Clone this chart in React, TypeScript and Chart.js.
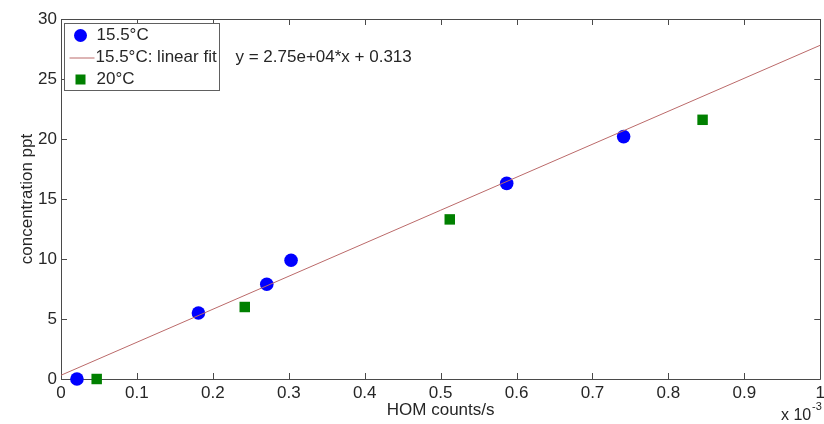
import React, { useEffect, useRef } from "react";
import { Chart, registerables } from "chart.js";

Chart.register(...registerables);

// HOM counts/s (in units of 1e-3)
const blueX = [0.021, 0.181, 0.271, 0.303, 0.587, 0.741];
const blueY = [0, 5.5, 7.9, 9.9, 16.3, 20.2];
const greenX = [0.047, 0.242, 0.512, 0.845];
const greenY = [0, 6.0, 13.3, 21.6];
const fitX = [0, 1];
const fitY = [0.313, 27.813];

const blueLabel = "15.5°C";
const fitLabel = "15.5°C: linear fit";
const greenLabel = "20°C";
const fitEquation = "y = 2.75e+04*x + 0.313";
const xTitle = "HOM counts/s";
const yTitle = "concentration ppt";
const xTicks = [0, 0.1, 0.2, 0.3, 0.4, 0.5, 0.6, 0.7, 0.8, 0.9, 1];
const yTicks = [0, 5, 10, 15, 20, 25, 30];

const FONT = "'Liberation Sans', Arial, sans-serif";
const TEXT = "#262626";
const AXIS = "#4a4a4a";
const BLUE = "#0000ff";
const GREEN = "#008000";
const FITC = "#bb6a6a";

const framePlugin = {
  id: "frame",
  beforeDatasetsDraw(chart: any) {
    const { ctx, chartArea: a, scales } = chart;
    ctx.save();
    ctx.strokeStyle = AXIS;
    ctx.lineWidth = 1;
    ctx.beginPath();
    ctx.rect(Math.round(a.left) + 0.5, Math.round(a.top) + 0.5, Math.round(a.right - a.left), Math.round(a.bottom - a.top));
    const tl = 6;
    xTicks.forEach((v) => {
      const px = Math.round(scales.x.getPixelForValue(v)) + 0.5;
      ctx.moveTo(px, a.bottom);
      ctx.lineTo(px, a.bottom - tl);
      ctx.moveTo(px, a.top);
      ctx.lineTo(px, a.top + tl);
    });
    yTicks.forEach((v) => {
      const py = Math.round(scales.y.getPixelForValue(v)) + 0.5;
      ctx.moveTo(a.left, py);
      ctx.lineTo(a.left + tl, py);
      ctx.moveTo(a.right, py);
      ctx.lineTo(a.right - tl, py);
    });
    ctx.stroke();
    ctx.restore();
  },
  afterDraw(chart: any) {
    const { ctx, chartArea: a } = chart;
    ctx.save();
    // legend box
    const bx = a.left + 3.5, by = a.top + 4.5, bw = 155, bh = 67;
    ctx.fillStyle = "#ffffff";
    ctx.fillRect(bx, by, bw, bh);
    ctx.strokeStyle = "#606060";
    ctx.lineWidth = 1;
    ctx.strokeRect(bx, by, bw, bh);
    ctx.font = `17px ${FONT}`;
    ctx.fillStyle = TEXT;
    ctx.textBaseline = "middle";
    ctx.textAlign = "left";
    const mx = bx + 16;
    const tx = bx + 32;
    const rows = [by + 12, by + 34, by + 56];
    // circle
    ctx.fillStyle = BLUE;
    ctx.beginPath();
    ctx.arc(mx, rows[0], 6.5, 0, Math.PI * 2);
    ctx.fill();
    // line
    ctx.strokeStyle = FITC;
    ctx.beginPath();
    ctx.moveTo(bx + 5, rows[1] + 0.5);
    ctx.lineTo(bx + 30, rows[1] + 0.5);
    ctx.stroke();
    // square
    ctx.fillStyle = GREEN;
    ctx.fillRect(mx - 5, rows[2] - 5, 10, 10);
    ctx.fillStyle = TEXT;
    ctx.fillText(blueLabel, tx, rows[0]);
    ctx.fillText(fitLabel, tx - 1, rows[1]);
    ctx.fillText(greenLabel, tx, rows[2]);
    // equation
    ctx.fillText(fitEquation, bx + 171, rows[1]);
    // exponent
    ctx.font = `16px ${FONT}`;
    ctx.textAlign = "left";
    ctx.fillText("x 10", 781, 416);
    ctx.font = `11px ${FONT}`;
    ctx.fillText("-3", 812, 407);
    ctx.restore();
  },
};

export default function App() {
  const ref = useRef<HTMLCanvasElement | null>(null);
  useEffect(() => {
    if (!ref.current) return;
    const chart = new Chart(ref.current, {
      type: "scatter",
      data: {
        datasets: [
          {
            label: fitLabel,
            type: "line",
            data: fitX.map((x, i) => ({ x, y: fitY[i] })),
            borderColor: FITC,
            borderWidth: 1,
            pointRadius: 0,
            fill: false,
          },
          {
            label: blueLabel,
            data: blueX.map((x, i) => ({ x, y: blueY[i] })),
            backgroundColor: BLUE,
            borderColor: BLUE,
            borderWidth: 0,
            pointRadius: 6.8,
            pointStyle: "circle",
          },
          {
            label: greenLabel,
            data: greenX.map((x, i) => ({ x, y: greenY[i] })),
            backgroundColor: GREEN,
            borderColor: GREEN,
            borderWidth: 0,
            pointRadius: 7.4,
            pointStyle: "rect",
          },
        ],
      } as any,
      options: {
        animation: false,
        responsive: true,
        maintainAspectRatio: false,
        clip: false,
        layout: { padding: { top: 19, right: 0, left: 0, bottom: 0 } },
        plugins: { legend: { display: false }, tooltip: { enabled: false } },
        scales: {
          x: {
            type: "linear",
            min: 0,
            max: 1,
            afterBuildTicks: (s: any) => {
              s.ticks = xTicks.map((v) => ({ value: v }));
            },
            afterFit: (s: any) => {
              s.height = 45;
            },
            grid: { display: false, drawTicks: false },
            border: { display: false },
            ticks: {
              padding: 4,
              color: TEXT,
              font: { family: FONT, size: 17 },
              maxRotation: 0,
              autoSkip: false,
              callback: (v: any) => (v === 0 || v === 1 ? String(v) : Number(v).toFixed(1)),
            },
            title: {
              display: true,
              text: xTitle,
              color: TEXT,
              font: { family: FONT, size: 17 },
              padding: { top: 0, bottom: 3 },
            },
          },
          y: {
            type: "linear",
            min: 0,
            max: 30,
            afterBuildTicks: (s: any) => {
              s.ticks = yTicks.map((v) => ({ value: v }));
            },
            afterFit: (s: any) => {
              s.width = 61;
            },
            grid: { display: false, drawTicks: false },
            border: { display: false },
            ticks: {
              padding: 4,
              color: TEXT,
              font: { family: FONT, size: 17 },
              autoSkip: false,
            },
            title: {
              display: true,
              text: yTitle,
              color: TEXT,
              font: { family: FONT, size: 17 },
              padding: { top: 17, bottom: 0 },
            },
          },
        },
      } as any,
      plugins: [framePlugin],
    });
    return () => chart.destroy();
  }, []);
  return (
    <div style={{ position: "absolute", left: 0, top: 0, width: 824, height: 424, overflow: "hidden", background: "#fff" }}>
      <div style={{ position: "absolute", left: 0, top: 0, width: 829, height: 424 }}>
        <canvas ref={ref} />
      </div>
    </div>
  );
}
